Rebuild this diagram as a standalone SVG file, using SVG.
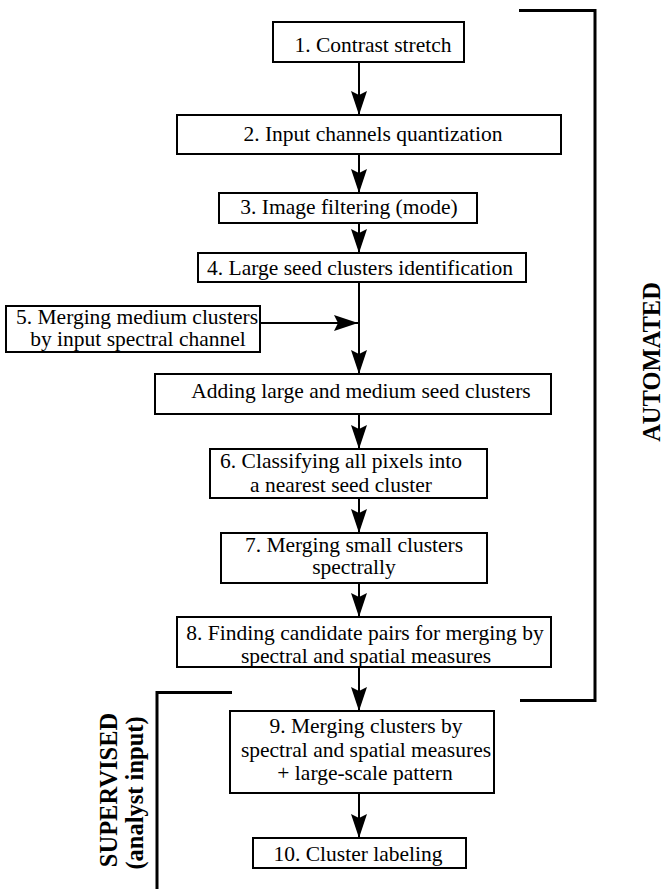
<svg xmlns="http://www.w3.org/2000/svg" width="664" height="889" viewBox="0 0 664 889">
<style>
.box{fill:#fff;stroke:#000;stroke-width:2}
.t{font-size:21.5px;fill:#000;text-anchor:middle}
.lbl{font-size:24.5px;font-weight:bold;fill:#000;text-anchor:middle}
.ln{stroke:#000;stroke-width:2;fill:none}
.br{stroke:#000;stroke-width:3;fill:none}
</style>
<defs>
<marker id="ah" viewBox="0 0 24 16" refX="24" refY="8" markerWidth="24" markerHeight="16" markerUnits="userSpaceOnUse" orient="auto">
<path d="M0,0 L24,8 L0,16 L4,8 Z" fill="#000"/>
</marker>
</defs>
<rect width="664" height="889" fill="#fff"/>
<g id="connectors">
<line class="ln" x1="359" y1="62" x2="359" y2="115" marker-end="url(#ah)"/>
<line class="ln" x1="359" y1="154" x2="359" y2="193" marker-end="url(#ah)"/>
<line class="ln" x1="359" y1="223" x2="359" y2="253" marker-end="url(#ah)"/>
<line class="ln" x1="359" y1="282" x2="359" y2="374" marker-end="url(#ah)"/>
<line class="ln" x1="260" y1="323" x2="358" y2="323" marker-end="url(#ah)"/>
<line class="ln" x1="359" y1="414" x2="359" y2="449" marker-end="url(#ah)"/>
<line class="ln" x1="359" y1="498" x2="359" y2="533" marker-end="url(#ah)"/>
<line class="ln" x1="359" y1="583" x2="359" y2="617" marker-end="url(#ah)"/>
<line class="ln" x1="359" y1="667" x2="359" y2="711" marker-end="url(#ah)"/>
<line class="ln" x1="359" y1="793" x2="359" y2="838" marker-end="url(#ah)"/>
</g>
<g font-family="Liberation Serif, DejaVu Serif, serif">
<g id="n1"><rect class="box" x="273" y="22" width="191" height="40"/><text class="t" x="373" y="52">1. Contrast stretch</text></g>
<g id="n2"><rect class="box" x="177" y="115" width="384" height="39"/><text class="t" x="373" y="141">2. Input channels quantization</text></g>
<g id="n3"><rect class="box" x="219" y="193" width="258" height="30"/><text class="t" x="349" y="214">3. Image filtering (mode)</text></g>
<g id="n4"><rect class="box" x="198" y="253" width="328" height="29"/><text class="t" x="360" y="275">4. Large seed clusters identification</text></g>
<g id="n5"><rect class="box" x="6" y="306" width="254" height="46"/><text class="t" x="137" y="324">5. Merging medium clusters</text><text class="t" x="138" y="346">by input spectral channel</text></g>
<g id="nadd"><rect class="box" x="155" y="374" width="396" height="40"/><text class="t" x="361" y="398">Adding large and medium seed clusters</text></g>
<g id="n6"><rect class="box" x="210" y="449" width="277" height="49"/><text class="t" x="341" y="468">6. Classifying all pixels into</text><text class="t" x="341" y="492">a nearest seed cluster</text></g>
<g id="n7"><rect class="box" x="221" y="533" width="266" height="50"/><text class="t" x="354" y="552">7. Merging small clusters</text><text class="t" x="354" y="574">spectrally</text></g>
<g id="n8"><rect class="box" x="177" y="617" width="374" height="50"/><text class="t" x="365" y="640">8. Finding candidate pairs for merging by</text><text class="t" x="366" y="663">spectral and spatial measures</text></g>
<g id="n9"><rect class="box" x="230" y="711" width="264" height="82"/><text class="t" x="366" y="733">9. Merging clusters by</text><text class="t" x="366" y="757">spectral and spatial measures</text><text class="t" x="365" y="780">+ large-scale pattern</text></g>
<g id="n10"><rect class="box" x="253" y="838" width="213" height="30"/><text class="t" x="358" y="861">10. Cluster labeling</text></g>
<g id="automated">
<polyline class="br" points="519,10.5 595,10.5 595,700.5 520,700.5"/>
<text class="lbl" transform="translate(660,362) rotate(-90)">AUTOMATED</text>
</g>
<g id="supervised">
<polyline class="br" points="232,692.5 157,692.5 157,889"/>
<text class="lbl" transform="translate(117,790) rotate(-90)">SUPERVISED</text>
<text class="lbl" transform="translate(143,793) rotate(-90)">(analyst input)</text>
</g>
</g>
</svg>
